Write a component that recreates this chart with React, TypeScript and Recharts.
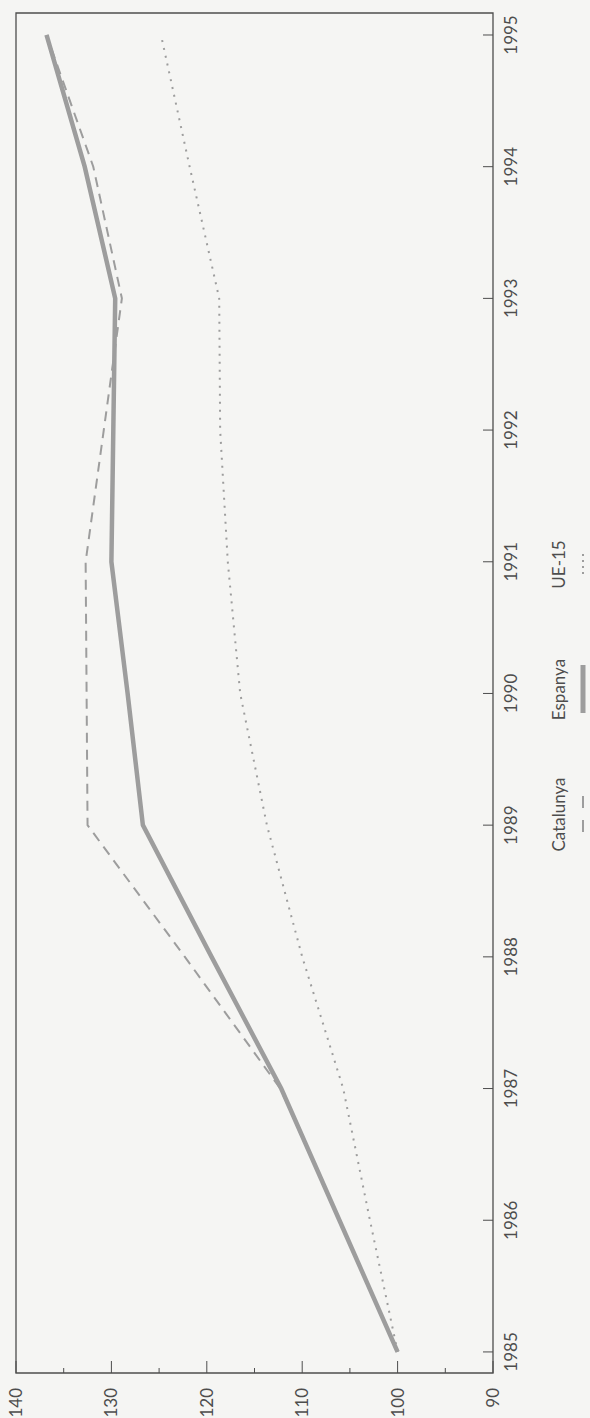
import { Legend, Line, LineChart, ReferenceArea, XAxis, YAxis } from "recharts";

const years = [1985, 1986, 1987, 1988, 1989, 1990, 1991, 1992, 1993, 1994, 1995];
const catalunya = [100, 106.1, 112.3, 122.3, 132.5, 132.6, 132.7, 130.8, 128.9, 131.9, 136.8];
const espanya = [100, 106.1, 112.2, 119.5, 126.7, 128.3, 130, 129.8, 129.6, 132.8, 136.8];
const ue15 = [100, 102.9, 105.7, 110, 113.7, 116.5, 117.8, 118.6, 118.7, 121.8, 124.8];
const valueTicks = [90, 95, 100, 105, 110, 115, 120, 125, 130, 135, 140];
const yearDomain = [1984.84, 1995.167];
const valueDomain = [90, 140];

const seriesNames = ["Catalunya", "Espanya", "UE-15"];

const data = years.map((year, i) => ({
  year,
  catalunya: catalunya[i],
  espanya: espanya[i],
  ue15: ue15[i],
}));

const INK = "#4d4d4d";
const GREY = "#9d9d9d";
const FONT = "Lato, 'Open Sans', sans-serif";
const W = 1418;
const H = 590;

const ValueTick = (props: any) => {
  const { x, y, payload } = props;
  const major = payload.value % 10 === 0;
  return (
    <g>
      <line x1={x + 15} x2={x + 15 + (major ? 12 : 5)} y1={y} y2={y} stroke={INK} />
      {major && (
        <text x={x} y={y} dy="0.35em" textAnchor="end" fill={INK} fontSize={17} fontFamily={FONT}>
          {payload.value}
        </text>
      )}
    </g>
  );
};

const YearTick = (props: any) => {
  const { x, y, payload } = props;
  return (
    <g>
      <line x1={x} x2={x} y1={y - 12} y2={y - 22} stroke={INK} />
      <text x={x} y={y} dy="0.71em" textAnchor="middle" fill={INK} fontSize={17} fontFamily={FONT}>
        {payload.value}
      </text>
    </g>
  );
};

const Swatch = ({ index }: { index: number }) => (
  <svg width={50} height={8} style={{ display: "block", marginTop: 10 }}>
    {index === 0 && <line x1={7} x2={43} y1={4} y2={4} stroke={GREY} strokeWidth={2} strokeDasharray="12 12" />}
    {index === 1 && <line x1={1} x2={49} y1={4} y2={4} stroke={GREY} strokeWidth={5} />}
    {index === 2 && <line x1={15} x2={35} y1={4} y2={4} stroke={GREY} strokeWidth={2} strokeDasharray="2 4" />}
  </svg>
);

const LegendContent = () => (
  <div style={{ display: "flex", paddingLeft: 541, fontFamily: FONT, color: INK, fontSize: 17 }}>
    {seriesNames.map((name, i) => (
      <div key={name} style={{ width: 125, display: "flex", flexDirection: "column", alignItems: "center" }}>
        <span style={{ lineHeight: "20px" }}>{name}</span>
        <Swatch index={i} />
      </div>
    ))}
  </div>
);

export default function App() {
  return (
    <div style={{ position: "absolute", left: 0, top: 0, width: H, height: W, background: "#f5f5f3", overflow: "hidden" }}>
      <div
        style={{
          position: "absolute",
          left: 0,
          top: 0,
          width: W,
          height: H,
          transformOrigin: "0 0",
          transform: `translateY(${W}px) rotate(-90deg)`,
        }}
      >
        <LineChart width={W} height={H} data={data} margin={{ top: 16, right: 13, left: 0, bottom: 0 }}>
          <XAxis
            dataKey="year"
            type="number"
            domain={yearDomain}
            ticks={years}
            allowDataOverflow
            axisLine={false}
            tickLine={false}
            tickSize={0}
            tickMargin={12}
            height={97}
            tick={<YearTick />}
            interval={0}
          />
          <YAxis
            type="number"
            domain={valueDomain}
            ticks={valueTicks}
            axisLine={false}
            tickLine={false}
            tickSize={0}
            tickMargin={15}
            width={45}
            tick={<ValueTick />}
            interval={0}
          />
          <ReferenceArea
            x1={yearDomain[0]}
            x2={yearDomain[1]}
            y1={valueDomain[0]}
            y2={valueDomain[1]}
            fill="none"
            fillOpacity={0}
            stroke={INK}
            strokeWidth={1.3}
            strokeOpacity={1}
            ifOverflow="visible"
          />
          <Line
            dataKey="ue15"
            type="linear"
            stroke={GREY}
            strokeWidth={2}
            strokeDasharray="2 6"
            dot={false}
            isAnimationActive={false}
          />
          <Line
            dataKey="catalunya"
            type="linear"
            stroke={GREY}
            strokeWidth={2}
            strokeDasharray="10 7"
            dot={false}
            isAnimationActive={false}
          />
          <Line
            dataKey="espanya"
            type="linear"
            stroke={GREY}
            strokeWidth={4.5}
            dot={false}
            isAnimationActive={false}
          />
          <Legend
            layout="horizontal"
            verticalAlign="middle"
            align="center"
            wrapperStyle={{ top: 549, left: 0, width: W }}
            content={<LegendContent />}
          />
        </LineChart>
      </div>
    </div>
  );
}
